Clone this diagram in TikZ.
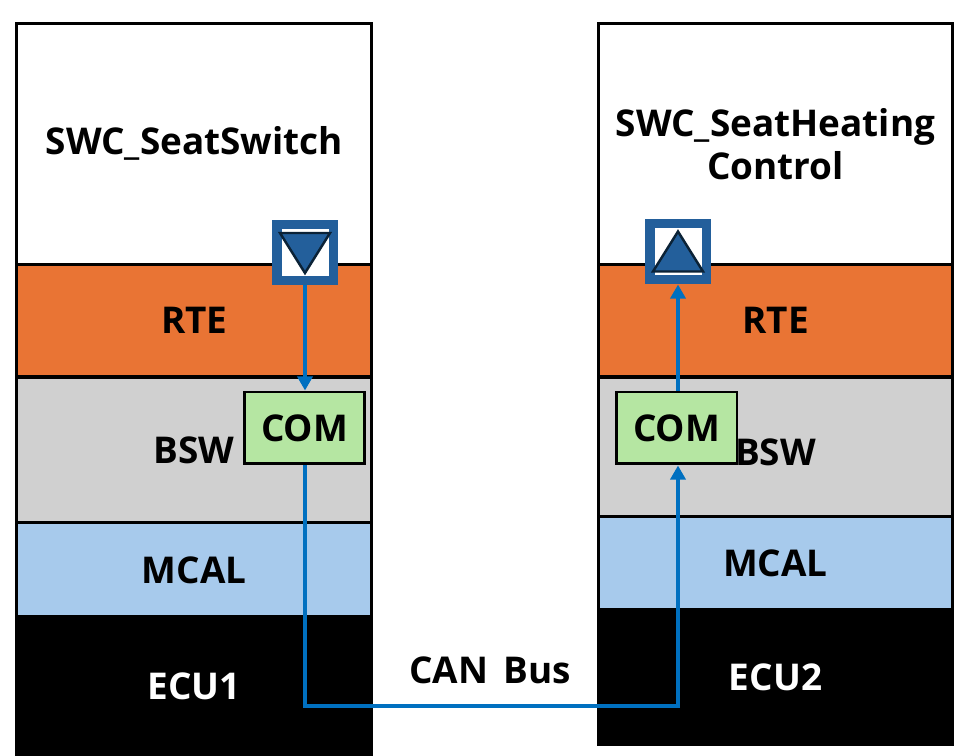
\documentclass[tikz,border=0pt]{standalone}
\usepackage{fontspec}
\setmainfont{Open Sans}
\usetikzlibrary{arrows.meta}

\definecolor{rtecol}{HTML}{E97434}
\definecolor{bswcol}{HTML}{D0D0D0}
\definecolor{mcalcol}{HTML}{A7CAEC}
\definecolor{comcol}{HTML}{B5E6A2}
\definecolor{portcol}{HTML}{235F9B}
\definecolor{tricol}{HTML}{0B2236}
\definecolor{wirecol}{HTML}{0070C0}

\begin{document}
\begin{tikzpicture}[x=0.02cm, y=-0.02cm]
\tikzset{
	layer/.style={rectangle, draw=black, line width=1.7pt, minimum width=7.1cm, inner sep=0pt,
		font=\fontsize{21}{24.4}\selectfont\bfseries, align=center},
	com/.style={rectangle, draw=black, line width=1.7pt, fill=comcol, minimum width=2.42cm,
		minimum height=1.44cm, inner sep=0pt, font=\fontsize{21}{24.4}\selectfont\bfseries},
	port/.style={rectangle, draw=portcol, fill=white, line width=5.4pt, minimum size=1.13cm, inner sep=0pt},
	tri/.style={draw=tricol, fill=portcol, line width=1.4pt, line join=miter},
	wire/.style={draw=wirecol, line width=2.6pt, -{Triangle[width=8.5pt,length=8pt]}}
}
\useasboundingbox (0,0) rectangle (971,756);

% ECU1
\node[layer, minimum height=4.83cm] (swc_1) at(194.25,143.75) {SWC\_SeatSwitch};
\node[layer, fill=rtecol, minimum height=2.25cm] (rte_1) at(194.25,320.75) {RTE};
\node[layer, fill=bswcol, minimum height=2.92cm] (bsw_1) at(194.25,450) {BSW};
\node[layer, fill=mcalcol, minimum height=1.88cm] (mcal_1) at(194.25,570) {MCAL};
\node[layer, fill=black, text=white, minimum height=2.76cm] (ecu_1) at(194.25,686) {ECU1};

% ECU2
\node[layer, minimum height=4.83cm] (swc_2) at(775.5,143.75) {SWC\_SeatHeating\\Control};
\node[layer, fill=rtecol, minimum height=2.25cm] (rte_2) at(775.5,320.75) {RTE};
\node[layer, fill=bswcol, minimum height=2.79cm] (bsw_2) at(775.5,446.75) {\raisebox{-3pt}[\height][\depth]{BSW}};
\node[layer, fill=mcalcol, minimum height=1.87cm] (mcal_2) at(775.5,563.25) {MCAL};
\node[layer, fill=black, text=white, minimum height=2.7cm] (ecu_2) at(775.5,677.5) {ECU2};

% COM
\node[com] (com_1) at(304.5,428) {COM};
\node[com] (com_2) at(676.5,428) {COM};

% ports
\node[port] (port_1) at(305,252.5) {};
\draw[tri] ([shift={(-25,-19.5)}]port_1.center) -- ([shift={(25,-19.5)}]port_1.center)
	-- ([shift={(0,20.5)}]port_1.center) -- cycle;
\node[port] (port_2) at(678,251.5) {};
\draw[tri] ([shift={(0,-20)}]port_2.center) -- ([shift={(25,20)}]port_2.center)
	-- ([shift={(-25,20)}]port_2.center) -- cycle;

% bus
\coordinate (bus_1) at(305,706);
\coordinate (bus_2) at(678,706);
\node[font=\fontsize{21}{24.4}\selectfont\bfseries] (can) at(490,670) {CAN\hspace{0.15em} Bus};

% wires
\draw[wire] (port_1.south) -- (port_1.south |- com_1.north);
\draw[wire] (port_1.south |- com_1.south) -- (bus_1) -- (bus_2) -- (bus_2 |- com_2.south);
\draw[wire] (bus_2 |- com_2.north) -- (port_2.south);

\end{tikzpicture}
\end{document}
